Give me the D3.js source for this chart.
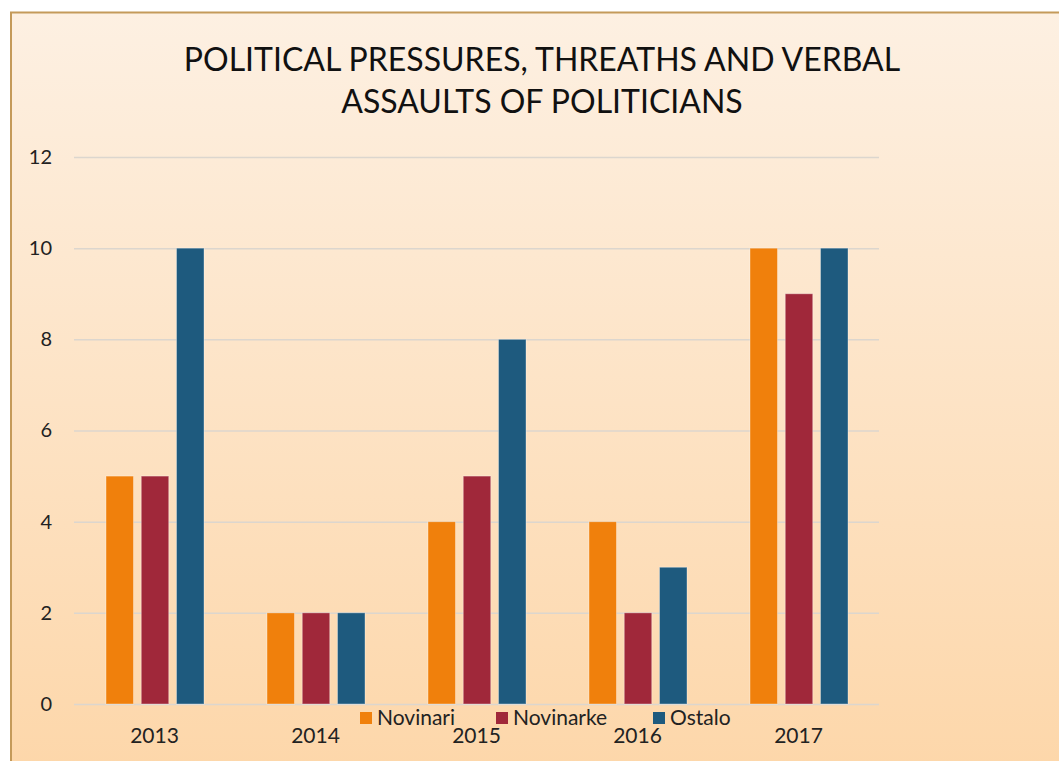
<!DOCTYPE html>
<meta charset="utf-8">
<script src="https://d3js.org/d3.v7.min.js"></script>
<style>
    body { margin: 0; background: #fff; }
    text { font-family: Lato, "Open Sans", sans-serif; }
</style>
<div id="my_dataviz"></div>
<script>
    // data
    var years = ["2013", "2014", "2015", "2016", "2017"];
    var seriesNames = ["Novinari", "Novinarke", "Ostalo"];
    var novinari = [5, 2, 4, 4, 10];
    var novinarke = [5, 2, 5, 2, 9];
    var ostalo = [10, 2, 8, 3, 10];
    var yTicks = [0, 2, 4, 6, 8, 10, 12];
    var colors = ["#F0800C", "#A0283A", "#1E5A7E"];

    var W = 1059, H = 761;
    var margin = { top: 157, right: 180, bottom: 57, left: 74 },
        width = W - margin.left - margin.right,
        height = H - margin.top - margin.bottom;

    var root = d3.select("#my_dataviz").append("svg")
        .attr("width", W).attr("height", H);

    // chart area background
    var grad = root.append("defs").append("linearGradient")
        .attr("id", "bg").attr("x1", 0).attr("y1", 0).attr("x2", 0).attr("y2", 1);
    grad.append("stop").attr("offset", "0%").attr("stop-color", "#FDF0E2");
    grad.append("stop").attr("offset", "100%").attr("stop-color", "#FDD6A8");

    root.append("rect")
        .attr("x", 11).attr("y", 12.5)
        .attr("width", W + 20).attr("height", H + 20)
        .attr("fill", "url(#bg)")
        .attr("stroke", "#C49A5A").attr("stroke-width", 2);

    // title
    var title = root.append("text")
        .attr("text-anchor", "middle")
        .attr("font-size", 32)
        .attr("fill", "#111");
    title.append("tspan").attr("x", 542).attr("y", 71).text("POLITICAL PRESSURES, THREATHS AND VERBAL");
    title.append("tspan").attr("x", 542).attr("y", 113).text("ASSAULTS OF POLITICIANS");

    var svg = root.append("g")
        .attr("transform", "translate(" + margin.left + "," + margin.top + ")");

    var x = d3.scaleBand().domain(years).range([0, width]).padding(0);
    var xSub = d3.scaleBand().domain(seriesNames).range([32, 130]).paddingInner(0.22);
    var y = d3.scaleLinear().domain([0, 12]).range([height, 0]);

    // gridlines
    svg.append("g")
        .call(d3.axisLeft(y).tickValues(yTicks).tickSize(-width).tickFormat(""))
        .call(function (g) {
            g.select(".domain").remove();
            g.selectAll("line").attr("stroke", "#DCD6CE").attr("stroke-width", 1.5);
        });

    // y labels
    svg.append("g")
        .call(d3.axisLeft(y).tickValues(yTicks).tickSize(0).tickPadding(22))
        .call(function (g) {
            g.select(".domain").remove();
            g.selectAll("text").attr("font-size", 20).attr("fill", "#222")
                .style("font-family", "Lato, sans-serif");
        });

    // x labels
    svg.append("g")
        .attr("transform", "translate(0," + height + ")")
        .call(d3.axisBottom(x).tickSize(0).tickPadding(24))
        .call(function (g) {
            g.select(".domain").remove();
            g.selectAll("text").attr("font-size", 21).attr("fill", "#222")
                .style("font-family", "Lato, sans-serif");
        });

    var table = years.map(function (yr, i) {
        return { year: yr, values: [novinari[i], novinarke[i], ostalo[i]] };
    });

    // bars
    svg.append("g").selectAll("g")
        .data(table)
        .enter().append("g")
        .attr("transform", function (d) { return "translate(" + x(d.year) + ",0)"; })
        .selectAll("rect")
        .data(function (d) { return d.values.map(function (v, j) { return { key: seriesNames[j], value: v, c: colors[j] }; }); })
        .enter().append("rect")
        .attr("x", function (d) { return xSub(d.key); })
        .attr("y", function (d) { return y(d.value); })
        .attr("width", xSub.bandwidth())
        .attr("height", function (d) { return y(0) - y(d.value); })
        .attr("fill", function (d) { return d.c; })
        .attr("stroke", "rgba(255,255,255,0.35)")
        .attr("stroke-width", 1);

    // legend
    var legendX = [360, 496, 653];
    var legend = root.append("g").selectAll("g")
        .data(seriesNames)
        .enter().append("g")
        .attr("transform", function (d, i) { return "translate(" + legendX[i] + ",712)"; });
    legend.append("rect")
        .attr("width", 12).attr("height", 12)
        .attr("fill", function (d, i) { return colors[i]; });
    legend.append("text")
        .attr("x", 17).attr("y", 13)
        .attr("font-size", 21).attr("fill", "#222")
        .text(function (d) { return d; });
</script>
